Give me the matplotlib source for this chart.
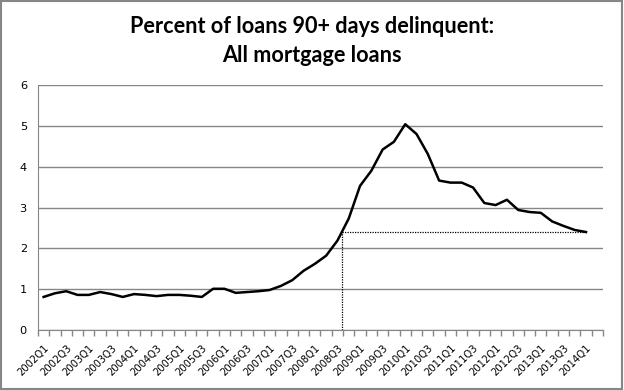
import numpy as np
import matplotlib
matplotlib.use('Agg')
import matplotlib.pyplot as plt
from matplotlib.patches import Rectangle

# quarterly data, 2002Q1 .. 2014Q1
quarters = [f"{y}Q{q}" for y in range(2002, 2015) for q in range(1, 5)][:49]
pct = [0.81, 0.90, 0.95, 0.86, 0.86, 0.93, 0.88, 0.81, 0.88, 0.86,
       0.83, 0.86, 0.86, 0.84, 0.81, 1.01, 1.01, 0.91, 0.93, 0.95,
       0.98, 1.08, 1.22, 1.45, 1.62, 1.82, 2.19, 2.73, 3.53, 3.90,
       4.42, 4.61, 5.04, 4.80, 4.31, 3.66, 3.61, 3.61, 3.49, 3.11,
       3.06, 3.19, 2.94, 2.89, 2.87, 2.66, 2.55, 2.45, 2.40]
n_cats = 50  # excel axis has one empty slot at the end

title1 = "Percent of loans 90+ days delinquent:"
title2 = "All mortgage loans"

fig = plt.figure(figsize=(6.24, 3.9), dpi=100)
ax = fig.add_axes([0.0609, 0.1538, 0.9054, 0.6282])

x = np.arange(len(pct))
y = np.array(pct)
ax.plot(x, y, color='black', lw=1.8, solid_joinstyle='round')

# where the series first climbed through today's level
level = y[-1]
k = np.where((y[:-1] < level) & (y[1:] >= level))[0][0]
xc = k + (level - y[k]) / (y[k + 1] - y[k])
ax.plot([xc, xc], [0, level], color='black', lw=0.9, ls=(0, (1, 1)))
ax.plot([xc, x[-1]], [level, level], color='black', lw=0.9, ls=(0, (1, 1)))

ax.set_xlim(-0.5, n_cats - 0.5)
ax.set_ylim(0, 6)
ax.set_yticks(range(7))
ax.grid(axis='y', color='#868686', lw=1)
ax.set_axisbelow(True)

ax.set_xticks(np.arange(-0.5, n_cats, 1), minor=True)
ax.set_xticks(x[::2])
ax.set_xticklabels(quarters[::2], rotation=45, ha='right', va='top',
                   rotation_mode='anchor', fontsize=7.2, family='DejaVu Sans')
ax.tick_params(axis='x', which='major', length=0, pad=9)
ax.tick_params(axis='x', which='minor', length=4, color='#868686', width=1)
ax.tick_params(axis='y', length=0, labelsize=8.2, pad=8)

for s in ['top', 'right']:
    ax.spines[s].set_visible(False)
ax.spines['left'].set_color('#868686')
ax.spines['bottom'].set_color('#868686')

fig.text(0.5, 1 - 33 / 390, title1, ha='center', va='baseline', fontsize=15.6,
         fontweight='bold', family='Lato')
fig.text(0.5, 1 - 62 / 390, title2, ha='center', va='baseline', fontsize=15.6,
         fontweight='bold', family='Lato')

fig.patches.append(Rectangle((0.002, 0.003), 0.994, 0.994, transform=fig.transFigure,
                             fill=False, edgecolor='#868686', lw=1.5))

plt.savefig("out.png", dpi=100)
